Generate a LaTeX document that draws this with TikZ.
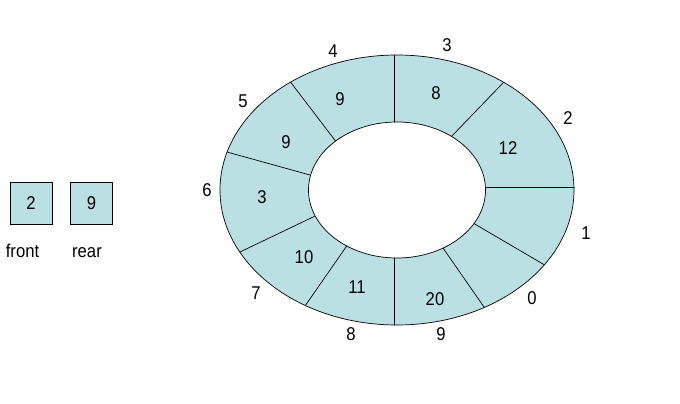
\documentclass[tikz,border=0pt]{standalone}
\usepackage{fontspec}
\setmainfont{Liberation Sans}[FakeStretch=0.9]
\definecolor{cell}{RGB}{187,224,227}
\begin{document}
\begin{tikzpicture}[x=1pt,y=-1pt,
  lbl/.style={font=\fontsize{18.5}{20}\selectfont, inner sep=0pt},
  box/.style={draw, fill=cell, minimum size=42pt, inner sep=0pt, line width=0.7pt, font=\fontsize{18.5}{20}\selectfont},
  divider/.style={line width=0.7pt, shorten <=-4pt, shorten >=-4pt}]
\useasboundingbox (0,0) rectangle (680,404);
\coordinate (c) at (397,190);
\fill[cell, even odd rule] (c) ellipse [x radius=177, y radius=135] (c) ellipse [x radius=88.5, y radius=68];
% divider end points (inner / outer)
\coordinate (a1) at (486,187); \coordinate (b1) at (574,187);
\coordinate (a2) at (450,138); \coordinate (b2) at (502,84);
\coordinate (a3) at (394,121); \coordinate (b3) at (394,55);
\coordinate (a4) at (334,139); \coordinate (b4) at (292,84);
\coordinate (a5) at (310,175); \coordinate (b5) at (227,152);
\coordinate (a6) at (311,218); \coordinate (b6) at (240,252);
\coordinate (a7) at (346,247); \coordinate (b7) at (305,306);
\coordinate (a8) at (394,257); \coordinate (b8) at (394,325);
\coordinate (a9) at (443,248); \coordinate (b9) at (484,307);
\coordinate (a10) at (473,223); \coordinate (b10) at (543,264);
\begin{scope}[even odd rule]
\clip (c) ellipse [x radius=177, y radius=135] (c) ellipse [x radius=88.5, y radius=68];
\foreach \i in {1,...,10} \draw[divider] (a\i) -- (b\i);
\end{scope}
\draw[line width=0.7pt] (c) ellipse [x radius=177, y radius=135];
\draw[line width=0.7pt] (c) ellipse [x radius=88.5, y radius=68];
% values
\node[lbl] (v3) at (436,93) {8};
\node[lbl] (v2) at (508,148) {12};
\node[lbl] (v4) at (340,99) {9};
\node[lbl] (v5) at (286,142) {9};
\node[lbl] (v6) at (262,197) {3};
\node[lbl] (v7) at (304,257) {10};
\node[lbl] (v8) at (357,287) {11};
\node[lbl] (v9) at (435,299) {20};
% indices
\node[lbl] (i4) at (333,51) {4};
\node[lbl] (i3) at (447,45) {3};
\node[lbl] (i2) at (568,118) {2};
\node[lbl] (i1) at (586,233) {1};
\node[lbl] (i0) at (532,298) {0};
\node[lbl] (i9) at (441,334) {9};
\node[lbl] (i8) at (351,334) {8};
\node[lbl] (i7) at (256,293) {7};
\node[lbl] (i6) at (207,190) {6};
\node[lbl] (i5) at (243,101) {5};
% front / rear
\node[box] (front) at (31,203) {2};
\node[box] (rear) at (91.5,203) {9};
\node[lbl, anchor=base] (frontlbl) at (22.5,257.5) {front};
\node[lbl, anchor=base] (rearlbl) at (87,257.5) {rear};
\end{tikzpicture}
\end{document}
